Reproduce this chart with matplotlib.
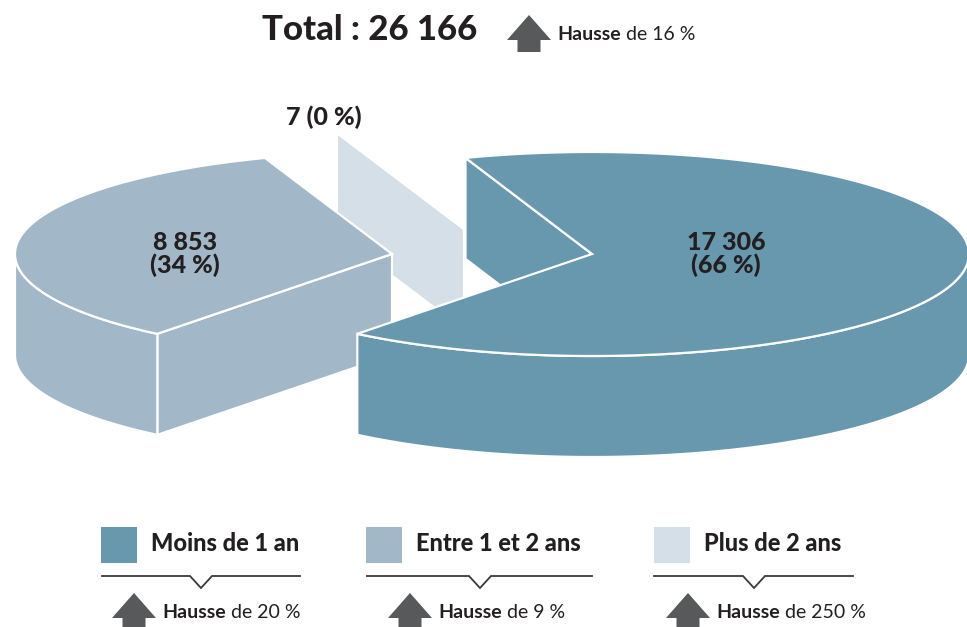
import numpy as np
import matplotlib.pyplot as plt
from matplotlib.patches import Polygon, Rectangle

plt.rcParams['font.family'] = ['Lato', 'DejaVu Sans']

# data
categories = ["Moins de 1 an", "Entre 1 et 2 ans", "Plus de 2 ans"]
values = [17306, 8853, 7]
hausse_cat = [20, 9, 250]
hausse_total = 16

COLORS = ['#6798ae', '#a2b8c8', '#d4dfe7']
TXT = '#231f20'
ARROW = '#58595b'

# layout (pixels, y down)
W, H = 967, 627
CX, CY = 592, 254
RX, RY, DEPTH = 377, 102, 101
START = -128.5
pie_order = [0, 2, 1]                       # counter-clockwise order of slices
offsets = [(0, 0), (-200, 0), (-128, -25)]  # exploded positions
z_radial = [1, 3, 2]
z_outer = [5, 3, 2]
z_top = [6, 4, 2]
label_pos = [(726, 254), (185, 254), (324, 117)]


def fmt(n):
    return f"{n:,}".replace(",", " ")


def arc(cx, cy, t1, t2, dy=0, n=200):
    t = np.radians(np.linspace(t1, t2, n))
    return np.column_stack([cx + RX * np.cos(t), cy - RY * np.sin(t) + dy])


def rim(cx, cy, t):
    t = np.radians(t)
    return (cx + RX * np.cos(t), cy - RY * np.sin(t))


fig = plt.figure(figsize=(W / 100, H / 100), dpi=100)
ax = fig.add_axes([0, 0, 1, 1])
ax.set_xlim(0, W)
ax.set_ylim(H, 0)
ax.axis('off')

total = sum(values)
angles = {}
a = START
for i in pie_order:
    span = values[i] / total * 360
    angles[i] = (a, a + span)
    a += span

ec = dict(edgecolor='white', linewidth=1.6, joinstyle='miter')
for i in range(len(values)):
    t1, t2 = angles[i]
    cx, cy = CX + offsets[i][0], CY + offsets[i][1]
    col = COLORS[i]
    # radial walls facing the viewer
    for t, normal in ((t1, t1 - 90), (t2, t2 + 90)):
        if np.sin(np.radians(normal)) < 0:
            rx, ry = rim(cx, cy, t)
            ax.add_patch(Polygon([(cx, cy), (rx, ry), (rx, ry + DEPTH), (cx, cy + DEPTH)],
                                 closed=True, facecolor=col, zorder=z_radial[i], **ec))
    # outer curved wall, front half only
    for k in (-1, 0, 1):
        lo, hi = max(t1, 180 + 360 * k), min(t2, 360 + 360 * k)
        if hi > lo:
            top = arc(cx, cy, lo, hi)
            bot = arc(cx, cy, hi, lo, dy=DEPTH)
            ax.add_patch(Polygon(np.vstack([top, bot]), closed=True, facecolor=col,
                                 zorder=z_outer[i], **ec))
    # top face
    pts = np.vstack([[(cx, cy)], arc(cx, cy, t1, t2)])
    ax.add_patch(Polygon(pts, closed=True, facecolor=col, zorder=z_top[i], **ec))

# slice labels
for i, v in enumerate(values):
    pct = round(v / total * 100)
    if i < 2:
        s = f"{fmt(v)}\n({pct} %)"
    else:
        s = f"{fmt(v)} ({pct} %)"
    ax.text(label_pos[i][0], label_pos[i][1], s, ha='center', va='center',
            fontsize=18, fontweight='black', color=TXT, linespacing=0.95, zorder=10)


def up_arrow(xc, ytop):
    pts = [(xc, ytop), (xc + 22, ytop + 25), (xc + 11.5, ytop + 25), (xc + 11.5, ytop + 37),
           (xc - 11.5, ytop + 37), (xc - 11.5, ytop + 25), (xc - 22, ytop + 25)]
    ax.add_patch(Polygon(pts, closed=True, facecolor=ARROW, edgecolor='none', zorder=10))


def hausse(x, y, pct):
    t = ax.text(x, y, "Hausse", ha='left', va='baseline', fontsize=14,
                fontweight='bold', color=TXT)
    ax.annotate(f" de {pct} %", xy=(1, 0), xycoords=t, ha='left', va='bottom',
                fontsize=14, color=TXT)


# title
ax.text(370, 40, f"Total : {fmt(total)}", ha='center', va='baseline',
        fontsize=25, fontweight='black', color=TXT)
up_arrow(529, 15)
hausse(557, 40, hausse_total)

# legend
sq_x = [101, 366, 654]
lab_x = [151, 416, 704]
lines = [(102, 300, 201), (367, 592, 480), (654, 853, 754)]
arrow_x = [134, 410, 688]
for i, cat in enumerate(categories):
    ax.add_patch(Rectangle((sq_x[i], 527), 36, 36, facecolor=COLORS[i], edgecolor='none'))
    ax.text(lab_x[i], 551, cat, ha='left', va='baseline', fontsize=17,
            fontweight='black', color=TXT)
    x0, x1, xm = lines[i]
    ax.plot([x0, xm - 11, xm, xm + 11, x1], [576, 576, 588, 576, 576],
            color='#3a3a3a', lw=1.3, solid_joinstyle='miter')
    up_arrow(arrow_x[i], 593)
    hausse(arrow_x[i] + 28, 618, hausse_cat[i])

fig.savefig("out.png", dpi=100)
